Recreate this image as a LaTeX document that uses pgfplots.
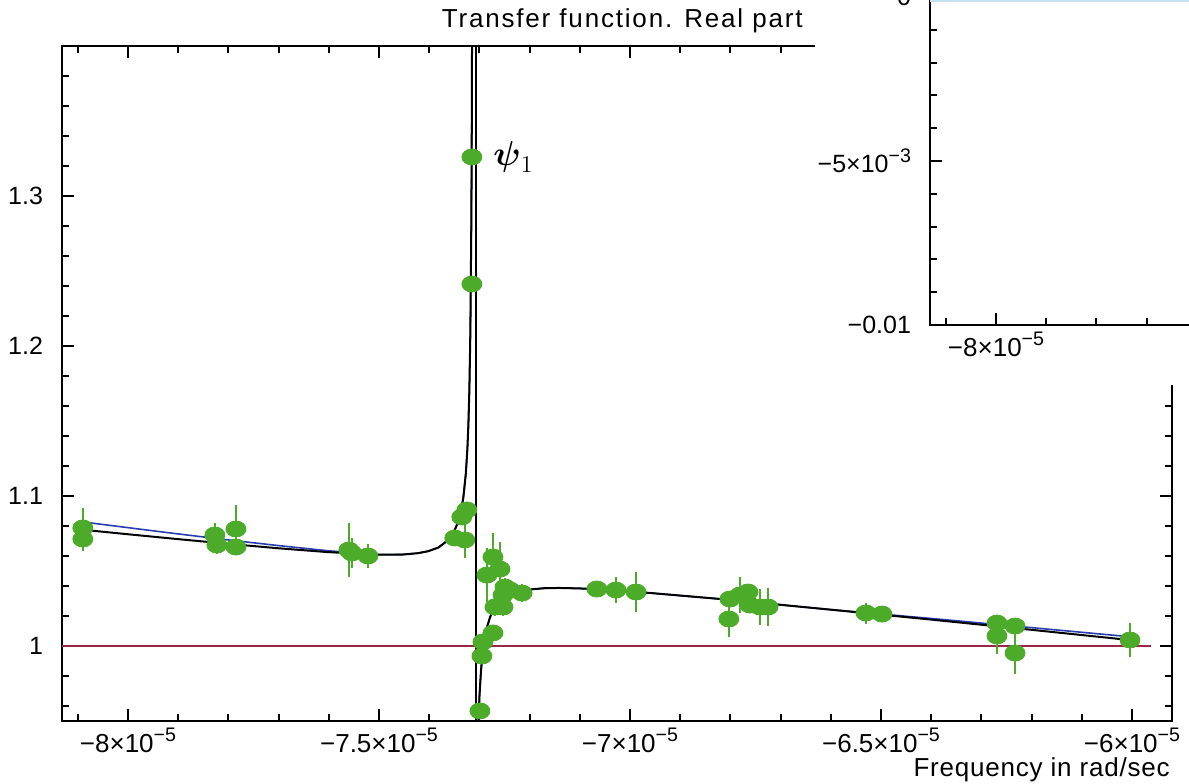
\documentclass[border=0pt]{standalone}
\usepackage{amsmath}
\usepackage{fontspec}
\setmainfont{Liberation Sans}
\usepackage{pgfplots}
\pgfplotsset{compat=1.18}
\definecolor{ptgreen}{RGB}{76,172,42}
\definecolor{ptred}{RGB}{150,40,70}
\definecolor{ptblue}{RGB}{40,60,175}
\definecolor{ptlblue}{RGB}{200,225,240}
\newcommand{\sci}[2]{#1×10\raisebox{0.42em}{\fontsize{9.8}{10}\selectfont #2}}
\begin{document}
\begin{tikzpicture}
\path[use as bounding box] (-31pt,-31pt) rectangle (563.5pt,360.5pt);
\pgfplotsset{
  myaxis/.style={scale only axis,
    axis line style={line width=1.3pt},
    tick align=inside, xtick pos=both, ytick pos=both,
    xticklabel pos=lower, yticklabel pos=left,
    major tick length=6pt, minor tick length=3.5pt,
    every tick/.style={black, line width=1pt},
    tick label style={font=\fontsize{12.5}{14}\selectfont},
    xticklabel style={font=\fontsize{13}{14}\selectfont},
    yticklabel style={xshift=-6pt},
    scaled x ticks=false, scaled y ticks=false,
    axis background/.style={fill=white}}
}
\begin{axis}[myaxis, at={(0,0)}, anchor=south west,
  width=555pt, height=337.5pt,
  xmin=-8.1315e-5, xmax=-5.9203e-5, ymin=0.95, ymax=1.4,
  xtick={-8e-5,-7.5e-5,-7e-5,-6.5e-5,-6e-5},
  xticklabels={\sci{−8}{−5},\sci{−7.5}{−5},\sci{−7}{−5},\sci{−6.5}{−5},\sci{−6}{−5}},
  minor xtick={-8.1e-5,-7.9e-5,-7.8e-5,-7.7e-5,-7.6e-5,-7.4e-5,-7.3e-5,-7.2e-5,-7.1e-5,-6.9e-5,-6.8e-5,-6.7e-5,-6.6e-5,-6.4e-5,-6.3e-5,-6.2e-5,-6.1e-5},
  ytick={1,1.1,1.2,1.3},
  yticklabels={1,1.1,1.2,1.3},
  minor ytick={0.96,0.98,1.02,1.04,1.06,1.08,1.12,1.14,1.16,1.18,1.22,1.24,1.26,1.28,1.32,1.34,1.36,1.38},
]
% reference line
\addplot[ptred, line width=0.6pt] coordinates {(-8.1315e-5,1) (-5.962e-5,1)};
% data points
\addplot[only marks, mark=*, mark size=4pt,
  mark options={fill=ptgreen, draw=ptgreen, xscale=1.25},
  error bars/.cd, y dir=both, y explicit, error mark=none,
  error bar style={ptgreen, line width=0.7pt}]
  table[x=x, y=y, y error=e] {
x y e
-8.090e-5 1.0787 0.0133
-8.090e-5 1.0713 0.008
-7.827e-5 1.0740 0.008
-7.823e-5 1.0673 0.006
-7.785e-5 1.0780 0.016
-7.785e-5 1.0660 0.005
-7.560e-5 1.0640 0.0177
-7.554e-5 1.0620 0.010
-7.522e-5 1.0600 0.008
-7.349e-5 1.0720 0.004
-7.329e-5 1.0707 0.012
-7.335e-5 1.0860 0.004
-7.325e-5 1.0907 0.004
-7.315e-5 1.3260 0.001
-7.315e-5 1.2413 0.001
-7.273e-5 1.0593 0.016
-7.259e-5 1.0513 0.018
-7.285e-5 1.0473 0.018
-7.249e-5 1.0393 0.006
-7.215e-5 1.0353 0.006
-7.239e-5 1.0373 0.005
-7.253e-5 1.0340 0.005
-7.269e-5 1.0260 0.006
-7.253e-5 1.0260 0.006
-7.273e-5 1.0087 0.004
-7.293e-5 1.0027 0.004
-7.295e-5 0.9933 0.004
-7.299e-5 0.9567 0.003
-7.066e-5 1.0380 0.003
-7.028e-5 1.0373 0.0087
-6.988e-5 1.0360 0.0135
-6.801e-5 1.0313 0.004
-6.803e-5 1.0180 0.012
-6.781e-5 1.0340 0.012
-6.765e-5 1.0360 0.004
-6.761e-5 1.0273 0.004
-6.741e-5 1.0260 0.012
-6.725e-5 1.0260 0.0127
-6.530e-5 1.0220 0.007
-6.498e-5 1.0213 0.003
-6.269e-5 1.0153 0.004
-6.269e-5 1.0067 0.012
-6.233e-5 1.0133 0.004
-6.233e-5 0.9953 0.014
-6.004e-5 1.0040 0.0113
};
% blue model
\addplot[ptblue, line width=0.8pt] coordinates {
(-8.090e-5,1.0827) (-8.0e-5,1.0789) (-7.902e-5,1.0748) (-7.8e-5,1.0707)
(-7.702e-5,1.0670) (-7.602e-5,1.0635) (-7.502e-5,1.0609) (-7.452e-5,1.0610)
(-7.422e-5,1.0619) (-7.402e-5,1.0632) (-7.382e-5,1.0656) (-7.362e-5,1.0706)
(-7.352e-5,1.0752) (-7.342e-5,1.0830) (-7.337e-5,1.0894) (-7.332e-5,1.0990)
(-7.327e-5,1.1151) (-7.324e-5,1.1311) (-7.322e-5,1.1470) (-7.320e-5,1.1708)
(-7.318e-5,1.2098) (-7.316e-5,1.2863) (-7.315e-5,1.3604) (-7.314e-5,1.5018)};
\addplot[ptblue, line width=0.8pt] coordinates {
(-7.3038e-5,0.9257) (-7.3018e-5,0.9506) (-7.2998e-5,0.9671) (-7.2968e-5,0.9836)
(-7.2938e-5,0.9946) (-7.2898e-5,1.0045) (-7.2848e-5,1.0127) (-7.2788e-5,1.0192)
(-7.2718e-5,1.0242) (-7.2618e-5,1.0288) (-7.2468e-5,1.0329) (-7.2268e-5,1.0358)
(-7.2018e-5,1.0376) (-7.1718e-5,1.0385) (-7.1418e-5,1.0387) (-7.1018e-5,1.0384)
(-7.0518e-5,1.0376) (-6.9618e-5,1.0354) (-6.8118e-5,1.0311) (-6.6118e-5,1.0246)
(-6.4118e-5,1.0187) (-6.2118e-5,1.0126) (-6.005e-5,1.0062)};
% black model
\addplot[black, line width=1pt] coordinates {
(-8.090e-5,1.0775) (-8.0e-5,1.0745) (-7.902e-5,1.0713) (-7.8e-5,1.0681)
(-7.702e-5,1.0652) (-7.602e-5,1.0626) (-7.502e-5,1.0609) (-7.452e-5,1.0610)
(-7.422e-5,1.0619) (-7.402e-5,1.0632) (-7.382e-5,1.0656) (-7.362e-5,1.0706)
(-7.352e-5,1.0752) (-7.342e-5,1.0830) (-7.337e-5,1.0894) (-7.332e-5,1.0990)
(-7.327e-5,1.1151) (-7.324e-5,1.1311) (-7.322e-5,1.1470) (-7.320e-5,1.1708)
(-7.318e-5,1.2098) (-7.316e-5,1.2863) (-7.315e-5,1.3604) (-7.314e-5,1.5018)};
\addplot[black, line width=1pt] coordinates {
(-7.3038e-5,0.9257) (-7.3018e-5,0.9506) (-7.2998e-5,0.9671) (-7.2968e-5,0.9836)
(-7.2938e-5,0.9946) (-7.2898e-5,1.0045) (-7.2848e-5,1.0127) (-7.2788e-5,1.0192)
(-7.2718e-5,1.0242) (-7.2618e-5,1.0288) (-7.2468e-5,1.0329) (-7.2268e-5,1.0358)
(-7.2018e-5,1.0376) (-7.1718e-5,1.0385) (-7.1418e-5,1.0387) (-7.1018e-5,1.0384)
(-7.0518e-5,1.0376) (-6.9618e-5,1.0354) (-6.8118e-5,1.0311) (-6.6118e-5,1.0246)
(-6.4118e-5,1.0180) (-6.2118e-5,1.0112) (-6.005e-5,1.0040)};
% resonance line
\addplot[black, line width=1pt] coordinates {(-7.3068e-5,0.95) (-7.3068e-5,1.4)};
\end{axis}
% title, labels
\node[anchor=base east, inner sep=0pt, font=\fontsize{13}{14}\selectfont\addfontfeature{LetterSpace=7}] at (370.5pt,346.5pt) {Transfer function. Real part};
\node[anchor=base east, inner sep=0pt, font=\fontsize{13}{14}\selectfont\addfontfeature{LetterSpace=3}] at (554pt,-27.5pt) {Frequency in rad/sec};
\node[anchor=west, inner sep=0pt, font=\fontsize{17.5}{20}\selectfont] at (215.5pt,282pt) {$\boldsymbol{\psi}_1$};
% inset panel
\fill[white] (376.5pt,168pt) rectangle (640pt,440pt);
\begin{axis}[myaxis, at={(434pt,198pt)}, anchor=south west,
  width=200pt, height=180.4pt,
  xmin=-8.1315e-5, xmax=-7.3347e-5, ymin=-0.01, ymax=0.001,
  xtick={-8e-5,-7.5e-5},
  xticklabels={\sci{−8}{−5},\sci{−7.5}{−5}},
  minor xtick={-8.1e-5,-7.9e-5,-7.8e-5,-7.7e-5,-7.6e-5,-7.4e-5},
  ytick={-0.01,-0.005,0},
  yticklabels={−0.01,\sci{−5}{−3},0},
  minor ytick={-0.009,-0.008,-0.007,-0.006,-0.004,-0.003,-0.002,-0.001},
]
\addplot[ptlblue, line width=0.8pt] coordinates {(-8.1315e-5,-1.2e-4) (-7.3347e-5,-1.2e-4)};
\end{axis}
\end{tikzpicture}
\end{document}
